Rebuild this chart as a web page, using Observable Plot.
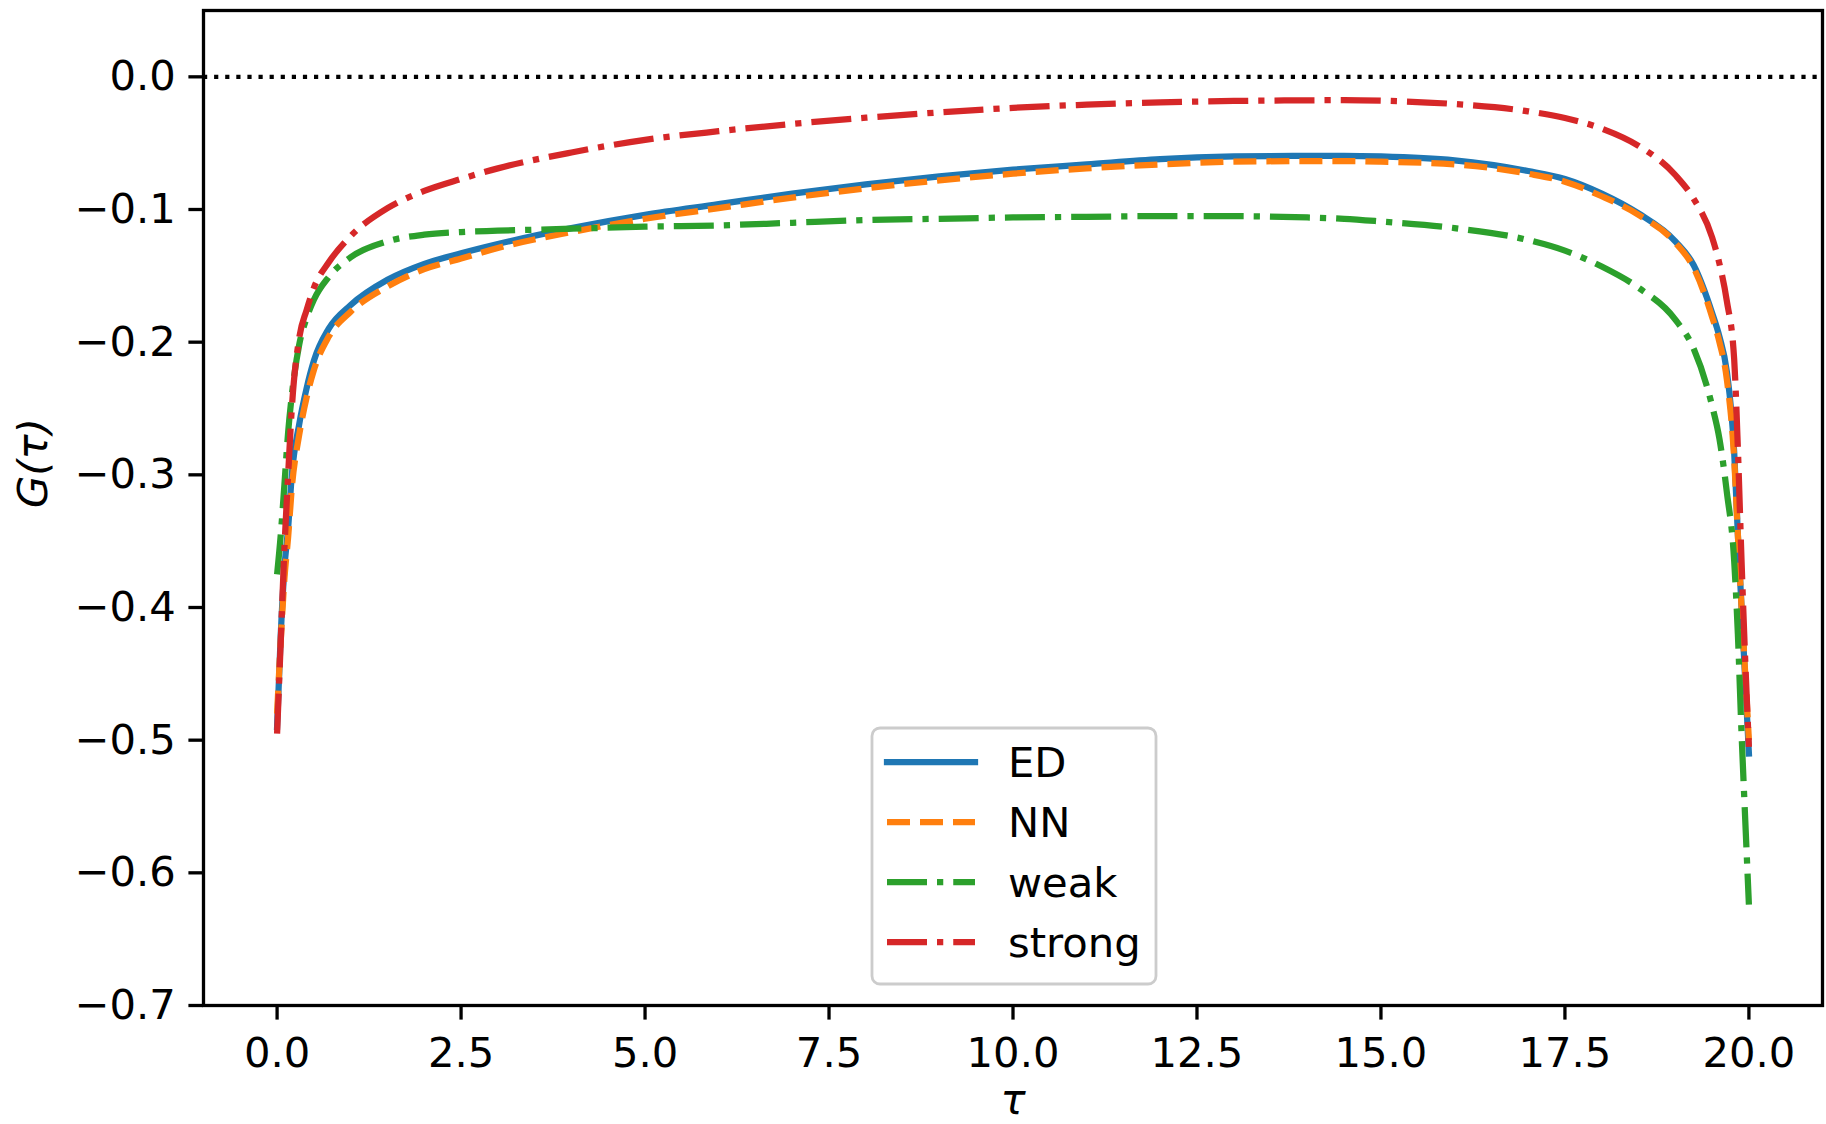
<!DOCTYPE html>
<html>
<head>
<meta charset="utf-8">
<script src="https://cdn.jsdelivr.net/npm/d3@7"></script>
<script src="https://cdn.jsdelivr.net/npm/@observablehq/plot@0.6"></script>
<style>
  html, body { margin: 0; padding: 0; background: white; }
  #chart { width: 1826px; height: 1124px; }
</style>
</head>
<body>
<div id="chart"></div>
<script>
// ---- data ----
const tau = [0, 0.05, 0.1, 0.15, 0.2, 0.3, 0.4, 0.5, 0.7, 1.0, 1.5, 2.0, 2.5, 3, 4, 5, 6, 7, 8, 9, 10, 11, 12, 13, 14, 14.5, 15, 16, 17, 17.5, 18, 18.5, 19, 19.25, 19.5, 19.6, 19.7, 19.8, 19.85, 19.9, 19.95, 20];
const ED = [-0.49, -0.42, -0.37, -0.34, -0.30, -0.262, -0.235, -0.214, -0.19, -0.172, -0.153, -0.141, -0.133, -0.126, -0.114, -0.104, -0.096, -0.088, -0.081, -0.075, -0.070, -0.066, -0.062, -0.060, -0.0595, -0.0595, -0.060, -0.063, -0.071, -0.077, -0.088, -0.103, -0.124, -0.142, -0.178, -0.196, -0.222, -0.283, -0.345, -0.40, -0.455, -0.51];
const NN = [-0.48, -0.425, -0.378, -0.347, -0.31, -0.27, -0.242, -0.221, -0.196, -0.177, -0.158, -0.145, -0.137, -0.129, -0.117, -0.107, -0.099, -0.091, -0.084, -0.078, -0.073, -0.069, -0.066, -0.064, -0.0635, -0.0635, -0.064, -0.066, -0.073, -0.079, -0.09, -0.104, -0.125, -0.144, -0.181, -0.2, -0.228, -0.288, -0.345, -0.40, -0.45, -0.50];
const weak = [-0.375, -0.345, -0.307, -0.268, -0.24, -0.202, -0.182, -0.168, -0.151, -0.136, -0.124, -0.119, -0.117, -0.116, -0.1145, -0.113, -0.112, -0.110, -0.108, -0.107, -0.106, -0.1055, -0.105, -0.105, -0.106, -0.107, -0.109, -0.114, -0.123, -0.131, -0.143, -0.159, -0.183, -0.205, -0.248, -0.273, -0.313, -0.365, -0.42, -0.495, -0.56, -0.624];
const strong = [-0.495, -0.425, -0.355, -0.30, -0.25, -0.197, -0.176, -0.159, -0.14, -0.12, -0.099, -0.086, -0.077, -0.069, -0.057, -0.0475, -0.041, -0.0355, -0.0308, -0.0268, -0.0234, -0.021, -0.0193, -0.0182, -0.0177, -0.0176, -0.018, -0.0205, -0.026, -0.031, -0.039, -0.052, -0.074, -0.092, -0.121, -0.141, -0.169, -0.213, -0.28, -0.365, -0.44, -0.505];
const seriesNames = ["ED", "NN", "weak", "strong"];
const xTicks = [0, 2.5, 5, 7.5, 10, 12.5, 15, 17.5, 20];
const yTicks = [0, -0.1, -0.2, -0.3, -0.4, -0.5, -0.6, -0.7];

// ---- styling ----
const seriesValues = {ED, NN, weak, strong};
const colors = {ED: "#1f77b4", NN: "#ff7f0e", weak: "#2ca02c", strong: "#d62728"};
const dashes = {ED: null, NN: "23,10", weak: "40,10,6.25,10", strong: "40,10,6.25,10"};
const LW = 6.25;
const FS = 41.7;
const FONT = "'DejaVu Sans', sans-serif";

const rows = seriesNames.flatMap(s => tau.map((t, i) => ({tau: t, G: seriesValues[s][i], series: s})));

const lineMarks = seriesNames.map(s => Plot.lineY(rows.filter(r => r.series === s), {
  x: "tau", y: "G", stroke: colors[s], strokeWidth: LW,
  strokeDasharray: dashes[s] ?? undefined,
  strokeLinecap: dashes[s] ? "butt" : "square", strokeLinejoin: "round", curve: "monotone-x"
}));

const fmt = d3.format(".1f");
const chart = Plot.plot({
  width: 1826, height: 1124,
  marginLeft: 203, marginRight: 4, marginTop: 10, marginBottom: 119,
  style: {fontFamily: FONT, fontSize: FS + "px", background: "white", color: "black"},
  x: {domain: [-1, 21]},
  y: {domain: [-0.7, 0.05]},
  marks: [
    Plot.ruleY([0], {stroke: "black", strokeWidth: 4.2, strokeDasharray: "4.2,6.9", strokeLinecap: "butt"}),
    ...lineMarks,
    Plot.frame({stroke: "black", strokeWidth: 3.3}),
    Plot.axisX({ticks: xTicks, tickFormat: fmt, tickSize: 14.6, tickPadding: 17, strokeWidth: 3.3, label: null, fontSize: FS}),
    Plot.axisY({ticks: yTicks, tickFormat: fmt, tickSize: 14.6, tickPadding: 13, strokeWidth: 3.3, label: null, fontSize: FS}),
    Plot.text(["τ"], {frameAnchor: "bottom", dy: 95, text: d => d, fontStyle: "italic", fontSize: FS, lineAnchor: "middle"}),
    Plot.text(["G(τ)"], {frameAnchor: "left", dx: -170, text: d => d, rotate: -90, fontStyle: "italic", fontSize: FS, lineAnchor: "middle"})
  ]
});
document.getElementById("chart").appendChild(chart);

// ---- legend (inside the axes, lower centre) ----
const svg = d3.select(chart);
const lg = svg.append("g").attr("class", "legend").attr("text-anchor", "start");
const box = {x: 872, y: 728, w: 284, h: 256};
lg.append("rect").attr("x", box.x).attr("y", box.y).attr("width", box.w).attr("height", box.h)
  .attr("rx", 8).attr("ry", 8).attr("fill", "white").attr("fill-opacity", 0.8)
  .attr("stroke", "#cccccc").attr("stroke-width", 2.8);
seriesNames.forEach((s, i) => {
  const yRow = 762 + i * 60;
  lg.append("line").attr("x1", 887).attr("x2", 975).attr("y1", yRow).attr("y2", yRow)
    .attr("stroke", colors[s]).attr("stroke-width", LW)
    .attr("stroke-dasharray", dashes[s] ?? null)
    .attr("stroke-linecap", dashes[s] ? "butt" : "square");
  lg.append("text").attr("x", 1008).attr("y", yRow + 15)
    .attr("text-anchor", "start")
    .attr("font-family", FONT).attr("font-size", FS).attr("fill", "black")
    .text(s);
});
</script>
</body>
</html>
